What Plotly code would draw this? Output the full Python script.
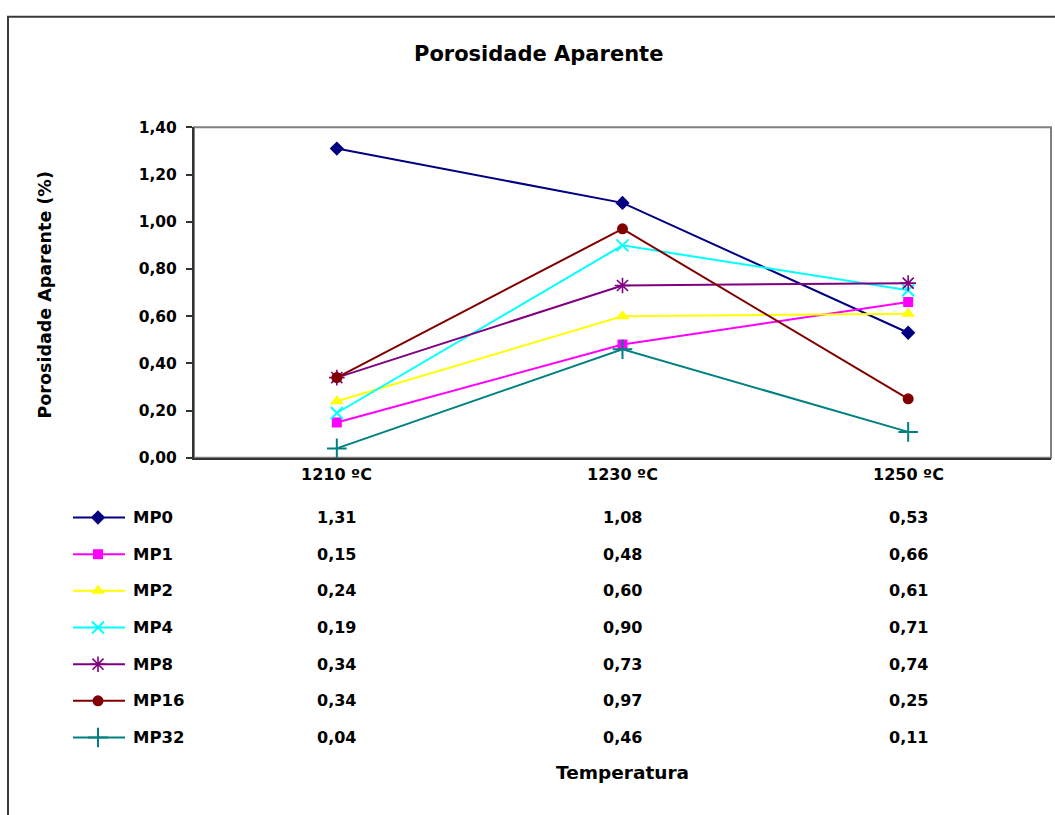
import plotly.graph_objects as go

# ---- data ----
categories = ["1210 ºC", "1230 ºC", "1250 ºC"]
series_names = ["MP0", "MP1", "MP2", "MP4", "MP8", "MP16", "MP32"]
mp0 = [1.31, 1.08, 0.53]
mp1 = [0.15, 0.48, 0.66]
mp2 = [0.24, 0.60, 0.61]
mp4 = [0.19, 0.90, 0.71]
mp8 = [0.34, 0.73, 0.74]
mp16 = [0.34, 0.97, 0.25]
mp32 = [0.04, 0.46, 0.11]
y_ticks = [0.0, 0.2, 0.4, 0.6, 0.8, 1.0, 1.2, 1.4]

series_values = [mp0, mp1, mp2, mp4, mp8, mp16, mp32]

# ---- styles ----
W, H = 1055, 815
colors = ["#000080", "#FF00FF", "#FFFF00", "#00FFFF", "#800080", "#800000", "#008080"]
symbols = ["diamond", "square", "triangle-up", "x-thin-open", "asterisk-open", "circle", "cross-thin-open"]
sizes = [11, 10, 12, 12, 13, 11, 14]
mlw = [0, 0, 0, 2, 1.6, 0, 2]

FONT = "DejaVu Sans"
BOLD = "bold"

def py(y_px):
    """pixel y (from top) -> paper y"""
    return 1 - y_px / H

px_left, px_right, px_top, px_bottom = 194, 1051, 121, 459
xd = [px_left / W, px_right / W]
yd = [py(px_bottom), py(px_top)]

fig = go.Figure()

x_idx = list(range(len(categories)))
for name, vals, c, s, sz, lw in zip(series_names, series_values, colors, symbols, sizes, mlw):
    fig.add_trace(go.Scatter(
        x=x_idx, y=vals, mode="lines+markers", name=name,
        line=dict(color=c, width=2),
        marker=dict(symbol=s, size=sz, color=c, line=dict(color=c, width=lw)),
        xaxis="x", yaxis="y", showlegend=False, cliponaxis=False,
    ))

# ---- data table (legend keys + values) ----
row0, row_gap = 520, 37.5
key_x0, key_xm, key_x1 = 73, 98, 125
annotations = []
for i, (name, vals, c, s, sz, lw) in enumerate(zip(series_names, series_values, colors, symbols, sizes, mlw)):
    ry = row0 + i * row_gap
    fig.add_trace(go.Scatter(
        x=[key_x0, key_x1], y=[ry, ry], mode="lines",
        line=dict(color=c, width=2), xaxis="x2", yaxis="y2",
        showlegend=False, hoverinfo="skip"))
    fig.add_trace(go.Scatter(
        x=[key_xm], y=[ry], mode="markers",
        marker=dict(symbol=s, size=sz, color=c, line=dict(color=c, width=lw)),
        xaxis="x2", yaxis="y2", showlegend=False, hoverinfo="skip"))
    annotations.append(dict(
        x=131 / W, y=py(ry), xref="paper", yref="paper", text=name,
        showarrow=False, xanchor="left", yanchor="middle",
        font=dict(family=FONT, size=16.5, color="black", weight=BOLD)))
    for j, v in enumerate(vals):
        annotations.append(dict(
            x=j, y=py(ry), xref="x", yref="paper",
            text=f"{v:.2f}".replace(".", ","), showarrow=False,
            xanchor="center", yanchor="middle",
            font=dict(family=FONT, size=16, color="black", weight=BOLD)))

for j, cat in enumerate(categories):
    annotations.append(dict(
        x=j, y=py(476), xref="x", yref="paper", text=cat, showarrow=False,
        xanchor="center", yanchor="middle",
        font=dict(family=FONT, size=16, color="black", weight=BOLD)))

annotations.append(dict(
    x=(px_left + px_right) / 2 / W, y=py(781), xref="paper", yref="paper",
    text="Temperatura", showarrow=False, xanchor="center", yanchor="middle",
    font=dict(family=FONT, size=18.5, color="black", weight=BOLD)))

annotations.append(dict(
    x=539 / W, y=py(46), xref="paper", yref="paper",
    text="Porosidade Aparente", showarrow=False, xanchor="center", yanchor="middle",
    font=dict(family=FONT, size=21, color="black", weight=BOLD)))

annotations.append(dict(
    x=45 / W, y=py(293), xref="paper", yref="paper",
    text="Porosidade Aparente (%)", showarrow=False, textangle=-90,
    xanchor="center", yanchor="middle",
    font=dict(family=FONT, size=17.5, color="black", weight=BOLD)))

shapes = [
    # outer chart border
    dict(type="rect", xref="paper", yref="paper",
         x0=8 / W, x1=1.05, y0=-0.05, y1=py(8),
         line=dict(color="#3a3a3a", width=2), fillcolor="rgba(0,0,0,0)", layer="below"),
    # plot area border (gray)
    dict(type="rect", xref="paper", yref="paper",
         x0=xd[0], x1=xd[1], y0=yd[0], y1=yd[1],
         line=dict(color="#808080", width=2), fillcolor="rgba(0,0,0,0)", layer="below"),
]

fig.update_layout(
    width=W, height=H,
    margin=dict(l=0, r=0, t=0, b=0),
    paper_bgcolor="white", plot_bgcolor="rgba(0,0,0,0)",
    separators=", ",
    showlegend=False,
    font=dict(family=FONT, color="black"),
    xaxis=dict(domain=xd, range=[-0.5, 2.5], showgrid=False, zeroline=False,
               showticklabels=False, ticks="", showline=True,
               linecolor="#333333", linewidth=2, anchor="y", fixedrange=True),
    yaxis=dict(domain=yd, range=[0, 1.4], tickvals=y_ticks, tickformat=".2f",
               showgrid=False, zeroline=False, ticks="outside", ticklen=6,
               tickwidth=1.5, tickcolor="#333333", showline=True,
               linecolor="#333333", linewidth=2, anchor="x",
               ticklabelstandoff=6,
               tickfont=dict(family=FONT, size=15.5, color="black", weight=BOLD)),
    xaxis2=dict(domain=[0, 1], range=[0, W], visible=False, anchor="y2", fixedrange=True),
    yaxis2=dict(domain=[0, 1], range=[H, 0], visible=False, anchor="x2", fixedrange=True),
    annotations=annotations,
    shapes=shapes,
)

fig.write_html("out.html")
